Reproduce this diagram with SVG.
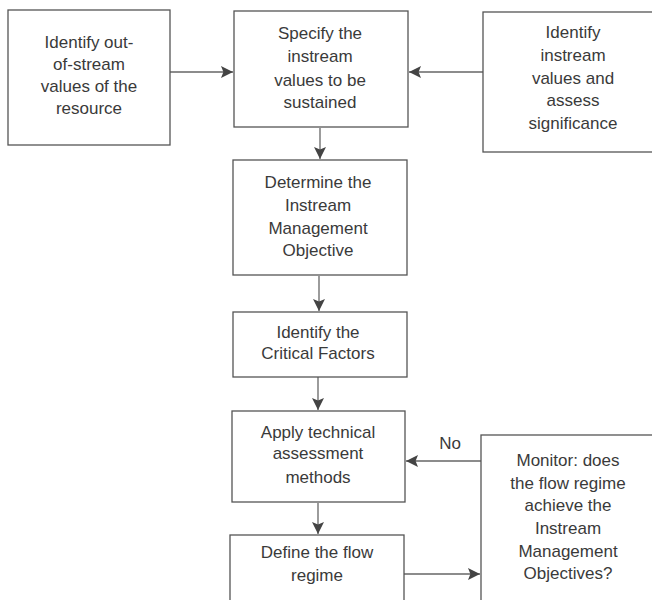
<svg xmlns="http://www.w3.org/2000/svg" width="652" height="600" viewBox="0 0 652 600">
<style>
.box{fill:#fff;stroke:#555;stroke-width:1.3}
.t{font-family:"Liberation Sans",Arial,sans-serif;font-size:17px;fill:#3a3a3a;text-anchor:middle}
.c{stroke:#666;stroke-width:1.3;fill:none}
</style>
<defs>
<marker id="ah" viewBox="0 0 10 10" refX="10" refY="5" markerWidth="12" markerHeight="12" markerUnits="userSpaceOnUse" orient="auto">
<path d="M0,0 L10,5 L0,10 L2,5 Z" fill="#444"/>
</marker>
</defs>
<rect width="652" height="600" fill="#fff"/>
<g id="connectors">
<line class="c" x1="170" y1="72" x2="233" y2="72" marker-end="url(#ah)"/>
<line class="c" x1="483" y1="72" x2="409" y2="72" marker-end="url(#ah)"/>
<line class="c" x1="320" y1="128" x2="320" y2="159" marker-end="url(#ah)"/>
<line class="c" x1="319" y1="276" x2="319" y2="311" marker-end="url(#ah)"/>
<line class="c" x1="318" y1="377" x2="318" y2="410" marker-end="url(#ah)"/>
<line class="c" x1="318" y1="503" x2="318" y2="534" marker-end="url(#ah)"/>
<line class="c" x1="404" y1="574" x2="480" y2="574" marker-end="url(#ah)"/>
<line class="c" x1="481" y1="461" x2="406" y2="461" marker-end="url(#ah)"/>
<text class="t" x="450" y="449">No</text>
</g>
<g id="n1">
<rect class="box" x="8" y="10" width="162" height="135"/>
<text class="t" x="89" y="48">Identify out-</text>
<text class="t" x="89" y="70">of-stream</text>
<text class="t" x="89" y="92">values of the</text>
<text class="t" x="89" y="114">resource</text>
</g>
<g id="n2">
<rect class="box" x="234" y="11" width="174" height="116"/>
<text class="t" x="320" y="39">Specify the</text>
<text class="t" x="320" y="62">instream</text>
<text class="t" x="320" y="86">values to  be</text>
<text class="t" x="320" y="108">sustained</text>
</g>
<g id="n3">
<rect class="box" x="483" y="12" width="170" height="140"/>
<text class="t" x="573" y="38">Identify</text>
<text class="t" x="573" y="61">instream</text>
<text class="t" x="573" y="84">values and</text>
<text class="t" x="573" y="106">assess</text>
<text class="t" x="573" y="129">significance</text>
</g>
<g id="n4">
<rect class="box" x="233" y="160" width="174" height="115"/>
<text class="t" x="318" y="188">Determine the</text>
<text class="t" x="318" y="211">Instream</text>
<text class="t" x="318" y="234">Management</text>
<text class="t" x="318" y="256">Objective</text>
</g>
<g id="n5">
<rect class="box" x="233" y="312" width="174" height="65"/>
<text class="t" x="318" y="338">Identify the</text>
<text class="t" x="318" y="359">Critical Factors</text>
</g>
<g id="n6">
<rect class="box" x="232" y="411" width="173" height="91"/>
<text class="t" x="318" y="438">Apply technical</text>
<text class="t" x="318" y="459">assessment</text>
<text class="t" x="318" y="483">methods</text>
</g>
<g id="n7">
<rect class="box" x="230" y="535" width="174" height="70"/>
<text class="t" x="317" y="558">Define the flow</text>
<text class="t" x="317" y="581">regime</text>
</g>
<g id="n8">
<rect class="box" x="481" y="435" width="175" height="170"/>
<text class="t" x="568" y="466">Monitor: does</text>
<text class="t" x="568" y="489">the flow regime</text>
<text class="t" x="568" y="511">achieve the</text>
<text class="t" x="568" y="534">Instream</text>
<text class="t" x="568" y="557">Management</text>
<text class="t" x="568" y="579">Objectives?</text>
</g>
</svg>
